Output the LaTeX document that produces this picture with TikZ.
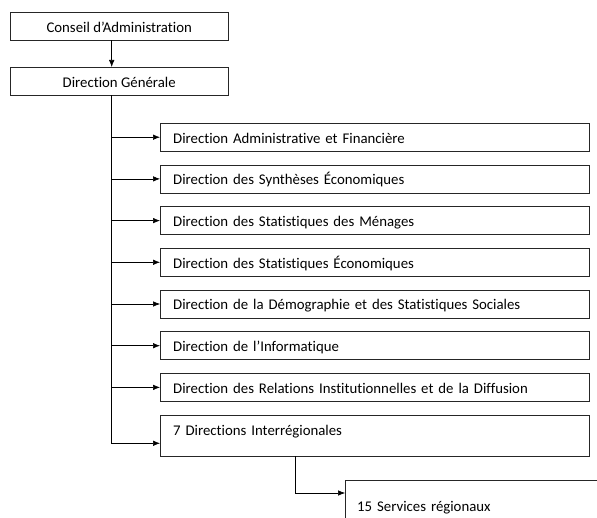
\documentclass[tikz,border=0pt]{standalone}
\usepackage{fontspec}
\setmainfont{Carlito}[Ligatures=NoCommon]
\usepackage{tikz}
\usetikzlibrary{arrows.meta,positioning}

\begin{document}
\begin{tikzpicture}[x=1pt,y=-1pt,
	box/.style={draw=black!85,rectangle,inner ysep=0pt,text height=20pt,text depth=8pt,font=\fontsize{14.8}{17}\selectfont},
	head/.style={box,anchor=north west,inner xsep=0pt,minimum width=218pt,align=center},
	dir/.style={box,anchor=north west,inner xsep=13pt,text width=403pt,align=left},
	to/.style={-{Latex[length=7pt,width=5.5pt]},semithick}]
\useasboundingbox (0,0) rectangle (597,518);
\clip (0,0) rectangle (597,518);

\node[head] (ca) at (10,12) {Conseil d’Administration};
\node[head] (dg) at (10,67) {Direction Générale};

\node[dir] (d1) at (160,123) {Direction Administrative et Financière};
\node[dir,below=13.3pt of d1] (d2) {Direction des Synthèses Économiques};
\node[dir,below=13.3pt of d2] (d3) {Direction des Statistiques des Ménages};
\node[dir,below=13.3pt of d3] (d4) {Direction des Statistiques Économiques};
\node[dir,below=13.3pt of d4] (d5) {Direction de la Démographie et des Statistiques Sociales};
\node[dir,below=13.3pt of d5] (d6) {Direction de l’Informatique};
\node[dir,below=13.3pt of d6] (d7) {Direction des Relations Institutionnelles et de la Diffusion};
\node[dir,below=13.3pt of d7,text depth=21pt] (d8) {7 Directions Interrégionales};

\node[dir,inner xsep=12pt,text height=31pt,text depth=12pt] (sr) at (345,480) {15 Services régionaux};

\draw[to] ([xshift=-7.5pt]ca.south) -- ([xshift=-7.5pt]dg.north);
\coordinate (trunk) at ([xshift=-7.5pt]dg.south);
\foreach \i in {1,...,7}
	\draw[to] (trunk |- d\i.west) -- (d\i.west);
\draw[to] (trunk) |- ([yshift=13pt]d8.south west);

\coordinate (sub) at ([xshift=135pt]d8.south west);
\draw[to] (sub) |- ([yshift=-13pt]sr.north west);

\end{tikzpicture}
\end{document}
